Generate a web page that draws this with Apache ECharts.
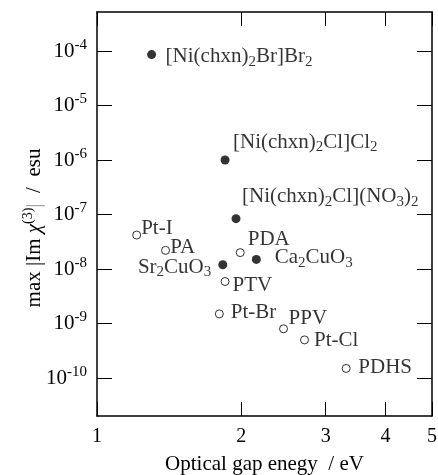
<!DOCTYPE html>
<html>
<head>
<meta charset="utf-8">
<script src="https://cdn.jsdelivr.net/npm/echarts@6/dist/echarts.min.js"></script>
<style>
  html, body { margin: 0; padding: 0; background: #fff; }
  #chart { width: 438px; height: 475px; }
</style>
</head>
<body>
<div id="chart"></div>
<script>
// filled circles
const filledNames = [
  "[Ni(chxn){s|2}Br]Br{s|2}",
  "[Ni(chxn){s|2}Cl]Cl{s|2}",
  "[Ni(chxn){s|2}Cl](NO{s|3}){s|2}",
  "Sr{s|2}CuO{s|3}",
  "Ca{s|2}CuO{s|3}"
];
const filledGap = [1.30, 1.85, 1.95, 1.83, 2.15];
const filledChi = [8.6e-5, 1.0e-6, 8.4e-8, 1.2e-8, 1.5e-8];

// open circles
const openNames = ["Pt-I", "PA", "PDA", "PTV", "Pt-Br", "PPV", "Pt-Cl", "PDHS"];
const openGap = [1.21, 1.39, 1.99, 1.85, 1.80, 2.45, 2.71, 3.31];
const openChi = [4.2e-8, 2.2e-8, 2.0e-8, 5.9e-9, 1.5e-9, 8.0e-10, 5.0e-10, 1.5e-10];

const xTicks = [1, 2, 3, 4, 5];
const yTicks = [1e-10, 1e-9, 1e-8, 1e-7, 1e-6, 1e-5, 1e-4];

// label placement (style only)
const filledLabelPos = [
  ["right", [9.5, 2]],
  ["right", [3.5, -18]],
  ["right", [1.5, -22]],
  ["left", [-7, 2.7]],
  ["right", [13.8, -1.5]]
];
const openLabelPos = [
  ["right", [0, -6.7]],
  ["right", [0.3, -3.3]],
  ["right", [3, -13.5]],
  ["right", [3, 3.5]],
  ["right", [7, -1]],
  ["right", [0.5, -10]],
  ["right", [5, 0.7]],
  ["right", [7.7, -1]]
];

const FONT = "Liberation Serif";
const rich = {
  s: { fontFamily: FONT, fontSize: 15, color: "#000", padding: [10, 0, 0, 0] }
};

function buildData(names, xs, ys, pos) {
  return names.map((n, i) => ({
    name: n,
    value: [xs[i], ys[i]],
    label: { position: pos[i][0], offset: pos[i][1] }
  }));
}

const chart = echarts.init(document.getElementById("chart"));

const axisLine = { show: true, lineStyle: { color: "#000", width: 1.5 } };
const tickStyle = { color: "#000", width: 1 };

const options = {
  animation: false,
  grid: { left: 97, right: 6, top: 12, bottom: 59, outerBoundsMode: "none" },
  xAxis: [
    {
      type: "log",
      logBase: 10,
      min: 1,
      max: 5,
      position: "bottom",
      axisLine: axisLine,
      axisTick: { show: true, inside: true, length: 14, lineStyle: tickStyle, customValues: xTicks },
      axisLabel: {
        customValues: xTicks,
        formatter: (v) => String(Math.round(v)),
        color: "#000",
        fontFamily: FONT,
        fontSize: 20,
        margin: 11
      },
      splitLine: { show: false },
      name: "Optical gap enegy  / eV",
      nameLocation: "middle",
      nameGap: 38,
      nameTextStyle: { color: "#000", fontFamily: FONT, fontSize: 21 }
    },
    {
      type: "log",
      logBase: 10,
      min: 1,
      max: 5,
      position: "top",
      axisLine: axisLine,
      axisTick: { show: true, inside: true, length: 14, lineStyle: tickStyle, customValues: xTicks },
      axisLabel: { show: false },
      splitLine: { show: false }
    }
  ],
  yAxis: [
    {
      type: "log",
      logBase: 10,
      min: Math.pow(10, -10.697),
      max: Math.pow(10, -3.284),
      position: "left",
      axisLine: axisLine,
      axisTick: { show: true, inside: true, length: 15, lineStyle: tickStyle, customValues: yTicks },
      axisLabel: {
        customValues: yTicks,
        formatter: (v) => "10{e|" + Math.round(Math.log10(v)) + "}",
        color: "#000",
        fontFamily: FONT,
        fontSize: 21,
        margin: 10,
        rich: {
          e: { fontFamily: FONT, fontSize: 15, color: "#000", padding: [0, 0, 12, 0] }
        }
      },
      splitLine: { show: false },
      name: "max |Im {c|χ}{u|(3)}{g||}  /  esu",
      nameLocation: "middle",
      nameGap: 50,
      nameMoveOverlap: false,
      nameTextStyle: {
        color: "#000",
        fontFamily: FONT,
        fontSize: 21,
        padding: [0, 28, 0, 0],
        rich: {
          c: { fontFamily: FONT, fontSize: 21, fontStyle: "italic", color: "#000" },
          u: { fontFamily: FONT, fontSize: 14, color: "#000", padding: [0, 0, 12, 0] },
          g: { fontFamily: FONT, fontSize: 21, color: "#999" }
        }
      }
    },
    {
      type: "log",
      logBase: 10,
      min: Math.pow(10, -10.697),
      max: Math.pow(10, -3.284),
      position: "right",
      axisLine: axisLine,
      axisTick: { show: true, inside: true, length: 15, lineStyle: tickStyle, customValues: yTicks },
      axisLabel: { show: false },
      splitLine: { show: false }
    }
  ],
  series: [
    {
      type: "scatter",
      xAxisIndex: 0,
      yAxisIndex: 0,
      symbol: "circle",
      symbolSize: 9,
      itemStyle: { color: "#000" },
      label: {
        show: true,
        formatter: (p) => p.name,
        distance: 0,
        color: "#000",
        fontFamily: FONT,
        fontSize: 21,
        rich: rich
      },
      data: buildData(filledNames, filledGap, filledChi, filledLabelPos)
    },
    {
      type: "scatter",
      xAxisIndex: 0,
      yAxisIndex: 0,
      symbol: "circle",
      symbolSize: 8,
      itemStyle: { color: "#fff", borderColor: "#000", borderWidth: 1 },
      label: {
        show: true,
        formatter: (p) => p.name,
        distance: 0,
        color: "#000",
        fontFamily: FONT,
        fontSize: 21,
        rich: rich
      },
      data: buildData(openNames, openGap, openChi, openLabelPos)
    }
  ]
};

chart.setOption(options);

window.addEventListener("resize", () => {
  chart.resize();
});
</script>
</body>
</html>
